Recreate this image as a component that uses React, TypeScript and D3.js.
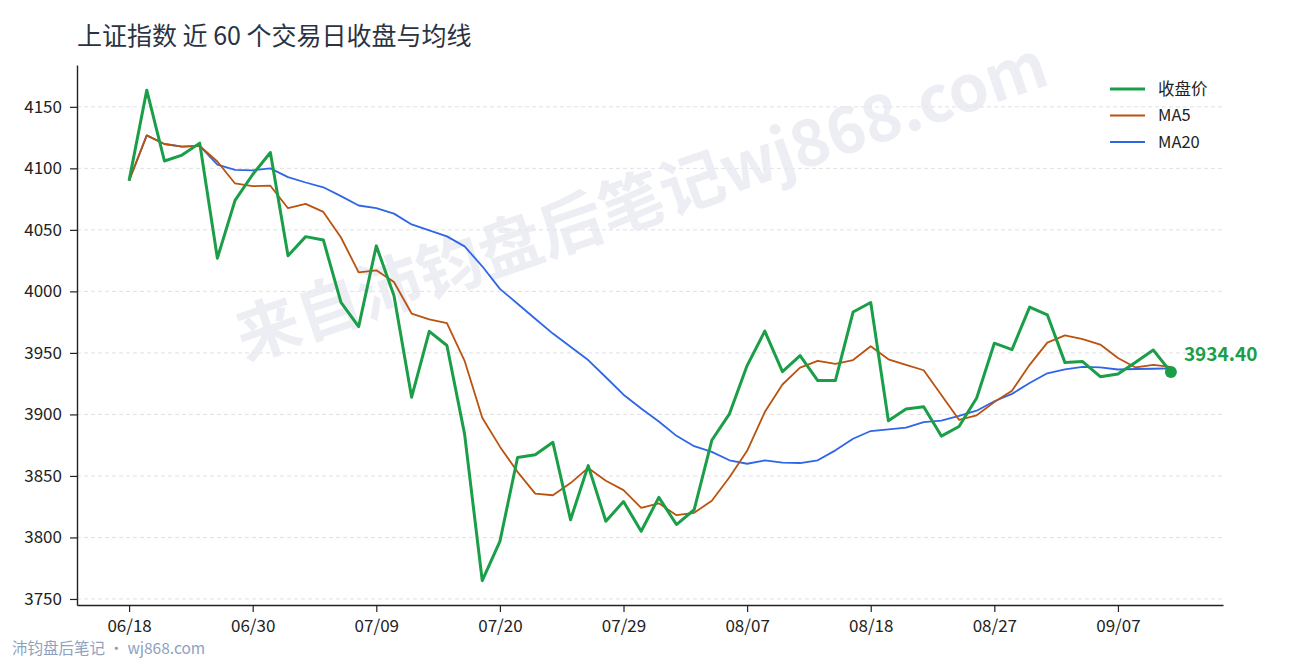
import { useRef, useEffect } from "react";
import * as d3 from "d3";

// 60 trading days (06/19 holiday skipped)
const dates = [
    "06/18", "06/22", "06/23", "06/24", "06/25", "06/26", "06/29", "06/30", "07/01", "07/02",
    "07/03", "07/06", "07/07", "07/08", "07/09", "07/10", "07/13", "07/14", "07/15", "07/16",
    "07/17", "07/20", "07/21", "07/22", "07/23", "07/24", "07/27", "07/28", "07/29", "07/30",
    "07/31", "08/03", "08/04", "08/05", "08/06", "08/07", "08/10", "08/11", "08/12", "08/13",
    "08/14", "08/17", "08/18", "08/19", "08/20", "08/21", "08/24", "08/25", "08/26", "08/27",
    "08/28", "08/31", "09/01", "09/02", "09/03", "09/04", "09/07", "09/08", "09/09", "09/10",
];

const closes = [
    4090.0, 4163.5, 4106.0, 4110.8, 4120.5, 4027.0, 4074.0, 4095.0, 4112.9, 4029.0,
    4044.5, 4041.8, 3991.0, 3971.4, 4037.0, 3996.6, 3914.0, 3967.5, 3956.0, 3884.0,
    3764.9, 3796.8, 3865.0, 3867.3, 3877.3, 3814.4, 3858.4, 3813.2, 3829.2, 3805.0,
    3832.6, 3810.5, 3822.5, 3879.0, 3900.5, 3939.7, 3967.7, 3934.8, 3947.8, 3927.5,
    3927.5, 3983.2, 3991.0, 3894.8, 3904.4, 3906.3, 3882.4, 3890.2, 3913.3, 3957.9,
    3952.7, 3987.2, 3981.0, 3942.1, 3943.0, 3930.7, 3932.9, 3942.4, 3952.4, 3934.4,
];

const ma5 = [
    4090.0, 4126.8, 4119.8, 4117.6, 4118.2, 4105.6, 4087.7, 4085.5, 4085.9, 4067.6,
    4071.1, 4064.6, 4043.8, 4015.5, 4017.1, 4007.6, 3982.0, 3977.3, 3974.2, 3943.6,
    3897.3, 3873.8, 3853.3, 3835.6, 3834.3, 3844.2, 3856.5, 3846.1, 3838.5, 3824.0,
    3827.7, 3818.1, 3820.0, 3829.9, 3849.0, 3870.4, 3901.9, 3924.3, 3938.1, 3943.5,
    3941.1, 3944.2, 3955.4, 3944.8, 3940.2, 3935.9, 3915.8, 3895.6, 3899.3, 3910.0,
    3919.3, 3940.3, 3958.4, 3964.2, 3961.2, 3956.8, 3945.9, 3938.2, 3940.3, 3938.6,
];

const ma20 = [
    4090.0, 4126.8, 4119.8, 4117.6, 4118.2, 4103.0, 4098.8, 4098.4, 4100.0, 4092.9,
    4088.5, 4084.6, 4077.4, 4069.8, 4067.6, 4063.2, 4054.4, 4049.6, 4044.7, 4036.6,
    4020.4, 4002.0, 3990.0, 3977.8, 3965.7, 3955.0, 3944.2, 3930.2, 3916.0, 3904.8,
    3894.2, 3882.6, 3874.2, 3869.6, 3862.7, 3859.9, 3862.6, 3860.9, 3860.5, 3862.7,
    3870.8, 3880.2, 3886.5, 3887.8, 3889.2, 3893.8, 3895.0, 3898.8, 3903.0, 3910.7,
    3916.7, 3925.5, 3933.4, 3936.6, 3938.7, 3938.3, 3936.5, 3936.9, 3937.1, 3937.5,
];

const yTicks = [3750, 3800, 3850, 3900, 3950, 4000, 4050, 4100, 4150];
const xTickIdx = [0, 7, 14, 21, 28, 35, 42, 49, 56];

const series = [
    { name: "收盘价", values: closes, color: "#1a9e48", width: 3 },
    { name: "MA5", values: ma5, color: "#b9530f", width: 1.8 },
    { name: "MA20", values: ma20, color: "#2f66e8", width: 1.8 },
];

const FONT = "'Noto Sans CJK SC', 'Noto Sans', sans-serif";

const App = () => {
    const svgRef = useRef(null);

    useEffect(() => {
        const svg = d3.select(svgRef.current);
        svg.selectAll("*").remove();

        const width = 1290;
        const height = 660;
        const margin = { top: 65, right: 67, bottom: 55, left: 77 };

        const x = d3.scaleLinear()
            .domain([-2.95, closes.length - 1 + 2.95])
            .range([margin.left, width - margin.right]);
        const y = d3.scaleLinear()
            .domain([3745.1, 4184])
            .range([height - margin.bottom, margin.top]);

        svg.append("rect").attr("width", width).attr("height", height).attr("fill", "#fff");

        // grid
        svg.append("g")
            .selectAll("line")
            .data(yTicks)
            .join("line")
            .attr("x1", margin.left)
            .attr("x2", width - margin.right)
            .attr("y1", d => y(d))
            .attr("y2", d => y(d))
            .attr("stroke", "#d9d9d9")
            .attr("stroke-width", 0.8)
            .attr("stroke-dasharray", "4,3");

        // watermark
        svg.append("text")
            .attr("transform", "translate(643,206) rotate(-19)")
            .attr("text-anchor", "middle")
            .attr("dominant-baseline", "middle")
            .attr("font-family", FONT)
            .attr("font-weight", "bold")
            .attr("font-size", 64)
            .attr("fill", "#e6e8ef")
            .attr("fill-opacity", 0.75)
            .text("来自沛钧盘后笔记wj868.com");

        // lines (draw MA20, MA5, then close on top)
        const line = d3.line<number>()
            .x((_, i) => x(i))
            .y(d => y(d));
        [...series].reverse().forEach(s => {
            svg.append("path")
                .datum(s.values)
                .attr("fill", "none")
                .attr("stroke", s.color)
                .attr("stroke-width", s.width)
                .attr("stroke-linejoin", "round")
                .attr("d", line);
        });

        // last point
        const last = closes.length - 1;
        svg.append("circle")
            .attr("cx", x(last))
            .attr("cy", y(closes[last]))
            .attr("r", 6)
            .attr("fill", "#1a9e48");
        svg.append("text")
            .attr("x", x(last) + 13)
            .attr("y", y(closes[last]) - 11)
            .attr("font-family", FONT)
            .attr("font-weight", "bold")
            .attr("font-size", 19)
            .attr("fill", "#1a9e48")
            .text(closes[last].toFixed(2));

        // axes
        const yAxis = svg.append("g")
            .attr("transform", `translate(${margin.left},0)`)
            .call(d3.axisLeft(y).tickValues(yTicks).tickFormat(d3.format("d")).tickSize(7).tickPadding(8).tickSizeOuter(0));
        const xAxis = svg.append("g")
            .attr("transform", `translate(0,${height - margin.bottom})`)
            .call(d3.axisBottom(x).tickValues(xTickIdx).tickFormat(i => dates[+i]).tickSize(7).tickPadding(8).tickSizeOuter(0));
        [yAxis, xAxis].forEach(g => {
            g.select(".domain").attr("stroke", "#222").attr("stroke-width", 1.4);
            g.selectAll(".tick line").attr("stroke", "#222").attr("stroke-width", 1.2);
            g.selectAll(".tick text")
                .attr("font-family", FONT)
                .attr("font-size", 17)
                .attr("fill", "#222");
        });

        // legend
        const legend = svg.append("g").attr("transform", "translate(1110,89)");
        series.forEach((s, i) => {
            const row = legend.append("g").attr("transform", `translate(0,${i * 26.5})`);
            row.append("line")
                .attr("x1", 0).attr("x2", 35)
                .attr("stroke", s.color)
                .attr("stroke-width", s.width);
            row.append("text")
                .attr("x", 48)
                .attr("dy", "0.35em")
                .attr("font-family", FONT)
                .attr("font-size", 16.5)
                .attr("fill", "#222")
                .text(s.name);
        });

        // title & footer
        svg.append("text")
            .attr("x", margin.left)
            .attr("y", 45)
            .attr("font-family", FONT)
            .attr("font-size", 25)
            .attr("fill", "#2a3342")
            .text("上证指数 近 60 个交易日收盘与均线");
        svg.append("text")
            .attr("x", 12)
            .attr("y", 654)
            .attr("font-family", FONT)
            .attr("font-size", 15.5)
            .attr("fill", "#8ea2c0")
            .text("沛钧盘后笔记 · wj868.com");
    }, []);

    return (
        <div style={{ position: "absolute", left: 0, top: 0 }}>
            <svg ref={svgRef} width={1290} height={660}></svg>
        </div>
    );
};

export default App;
